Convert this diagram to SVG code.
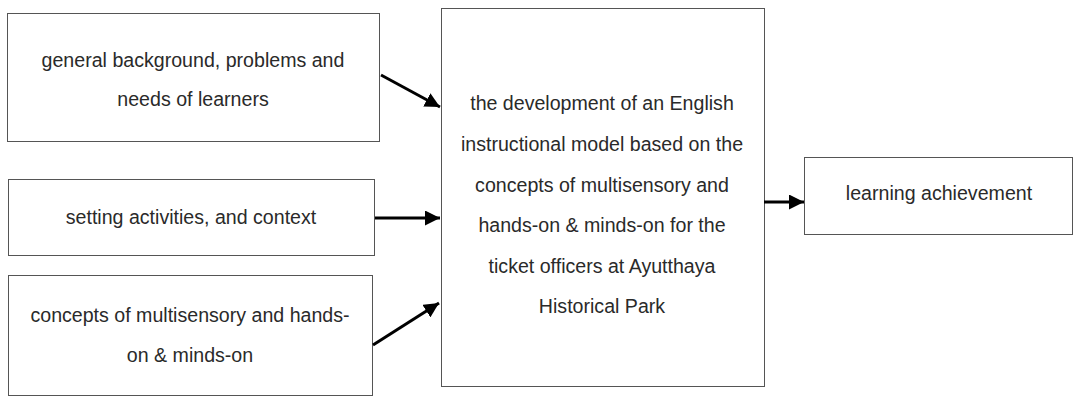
<svg xmlns="http://www.w3.org/2000/svg" width="1074" height="396" viewBox="0 0 1074 396">
<defs>
<marker id="ah" viewBox="0 0 10 10" refX="10" refY="5" markerWidth="5" markerHeight="5" orient="auto" markerUnits="strokeWidth">
<path d="M0,0 L10,5 L0,10 z" fill="#000"/>
</marker>
<style>
.box{fill:#fff;stroke:#555;stroke-width:1}
.t{font-family:"Liberation Sans",Arial,sans-serif;font-size:19.6px;fill:#2a2a2a;text-anchor:middle}
.c{stroke:#000;stroke-width:3;fill:none;marker-end:url(#ah)}
</style>
</defs>
<rect width="1074" height="396" fill="#fff"/>
<g id="n1"><rect class="box" x="7.5" y="13.5" width="372" height="128"/>
<text class="t" x="193" y="67">general background, problems and</text>
<text class="t" x="193" y="106">needs of learners</text></g>
<g id="n2"><rect class="box" x="8.5" y="179.5" width="366" height="76"/>
<text class="t" x="191" y="224">setting activities, and context</text></g>
<g id="n3"><rect class="box" x="8.5" y="275.5" width="364" height="120"/>
<text class="t" x="190" y="322">concepts of multisensory and hands-</text>
<text class="t" x="190" y="362">on &amp; minds-on</text></g>
<g id="n4"><rect class="box" x="441.5" y="8.5" width="323" height="378"/>
<text class="t" x="602" y="110">the development of an English</text>
<text class="t" x="602" y="151">instructional model based on the</text>
<text class="t" x="602" y="192">concepts of multisensory and</text>
<text class="t" x="602" y="232">hands-on &amp; minds-on for the</text>
<text class="t" x="602" y="273">ticket officers at Ayutthaya</text>
<text class="t" x="602" y="313">Historical Park</text></g>
<g id="n5"><rect class="box" x="804.5" y="157.5" width="268" height="77"/>
<text class="t" x="939" y="200">learning achievement</text></g>
<g id="connectors">
<line class="c" x1="381" y1="75" x2="440" y2="107"/>
<line class="c" x1="375" y1="218" x2="440" y2="218"/>
<line class="c" x1="373" y1="345" x2="439" y2="303"/>
<line class="c" x1="764" y1="202" x2="804" y2="202"/>
</g>
</svg>
